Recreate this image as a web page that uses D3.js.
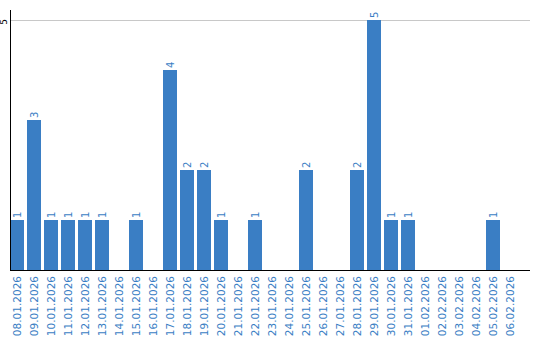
<html>
  <script src="https://d3js.org/d3.v7.min.js"></script>
  <style>
    body { margin: 0; background: #fff; }
    text { font-family: Verdana, "DejaVu Sans", sans-serif; }
  </style>
  <body>
    <script>
      let dates = ["08.01.2026", "09.01.2026", "10.01.2026", "11.01.2026", "12.01.2026", "13.01.2026",
                   "14.01.2026", "15.01.2026", "16.01.2026", "17.01.2026", "18.01.2026", "19.01.2026",
                   "20.01.2026", "21.01.2026", "22.01.2026", "23.01.2026", "24.01.2026", "25.01.2026",
                   "26.01.2026", "27.01.2026", "28.01.2026", "29.01.2026", "30.01.2026", "31.01.2026",
                   "01.02.2026", "02.02.2026", "03.02.2026", "04.02.2026", "05.02.2026", "06.02.2026"];
      let counts = [1, 3, 1, 1, 1, 1, 0, 1, 0, 4, 2, 2, 1, 0, 1, 0, 0, 2, 0, 0, 2, 5, 1, 1, 0, 0, 0, 0, 1, 0];
      let yTicks = [5];

      let width = 540;
      let height = 340;
      let blue = "#3a7ec4";
      let plotLeft = 10, plotRight = 530, plotTop = 10, plotBottom = 270;

      let svg = d3.select("body").append("svg")
                  .attr("width", width)
                  .attr("height", height);

      let x = d3.scaleBand()
                .domain(dates)
                .range([plotLeft, 517])
                .paddingInner(3 / 17)
                .paddingOuter(0);
      let y = d3.scaleLinear()
                .domain([0, 5])
                .range([plotBottom, 20]);

      // grid line
      yTicks.forEach(t => {
        svg.append("line")
           .attr("x1", plotLeft).attr("x2", plotRight)
           .attr("y1", y(t) + 0.5).attr("y2", y(t) + 0.5)
           .attr("stroke", "#c8c8c8");
        svg.append("text")
           .attr("transform", `translate(7,${y(t) + 2}) rotate(-90)`)
           .attr("text-anchor", "middle")
           .attr("font-size", 9)
           .attr("fill", "#000")
           .text(t);
      });

      // bars
      let data = dates.map((d, i) => ({date: d, value: counts[i]}));
      svg.selectAll("rect.bar")
         .data(data.filter(d => d.value > 0))
         .join("rect")
         .attr("x", d => x(d.date))
         .attr("y", d => y(d.value))
         .attr("width", x.bandwidth())
         .attr("height", d => y(0) - y(d.value))
         .attr("fill", blue);

      // value labels
      svg.selectAll("text.val")
         .data(data.filter(d => d.value > 0))
         .join("text")
         .attr("transform", d => `translate(${x(d.date) + x.bandwidth() / 2 + 3.5},${y(d.value) - 2}) rotate(-90)`)
         .attr("font-size", 10)
         .attr("fill", blue)
         .text(d => d.value);

      // axes lines
      svg.append("line")
         .attr("x1", plotLeft + 0.5).attr("x2", plotLeft + 0.5)
         .attr("y1", plotTop).attr("y2", plotBottom)
         .attr("stroke", "#000");
      svg.append("line")
         .attr("x1", plotLeft).attr("x2", plotRight)
         .attr("y1", plotBottom + 0.5).attr("y2", plotBottom + 0.5)
         .attr("stroke", "#000");

      // category labels
      svg.selectAll("text.cat")
         .data(dates)
         .join("text")
         .attr("transform", d => `translate(${x(d) + x.bandwidth() / 2 + 3.5},${plotBottom + 6}) rotate(-90)`)
         .attr("text-anchor", "end")
         .attr("font-size", 10.5)
         .attr("fill", blue)
         .text(d => d);
    </script>
  </body>
</html>
